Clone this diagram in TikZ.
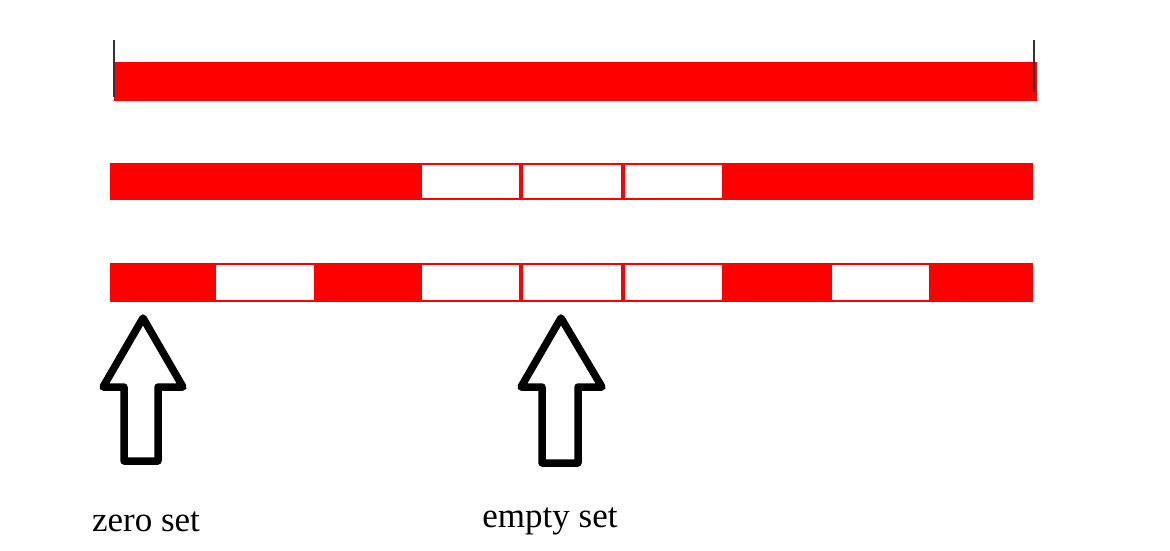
\documentclass[tikz,border=0pt]{standalone}
\usepackage{fontspec}
\setmainfont{Liberation Serif}
\definecolor{barred}{RGB}{255,0,0}
\tikzset{
  full/.style={fill=barred, draw=barred, line width=0.8pt},
  hole/.style={fill=white, draw=barred, line width=2pt},
  tick/.style={draw=black!80, line width=2pt},
  bigarrow/.style={draw=black, line width=7.5pt, fill=white, line join=round},
  lbl/.style={font=\fontsize{35}{38}\selectfont, anchor=base}
}
\begin{document}
\begin{tikzpicture}[x=1pt,y=-1pt]
\useasboundingbox (0,0) rectangle (1170,550);
% top bar
\fill[barred] (114,62) rectangle (1037,101);
\draw[tick] (114,40) -- (114,97);
\draw[tick] (1034,40) -- (1034,92);
% second bar
\fill[barred] (110,163) rectangle (1033,200);
\foreach \a/\b in {421/520,522/622,624/723}{
  \draw[hole] (\a,164) rectangle (\b,199);
}
% third bar
\fill[barred] (110,263) rectangle (1033,302);
\foreach \a/\b in {215/315,421/520,522/622,624/723,831/930}{
  \draw[hole] (\a,264) rectangle (\b,301);
}
% arrows
\draw[bigarrow] (143,318) -- (183,387) -- (158,387) -- (158,461) -- (124,461) -- (124,387) -- (103,387) -- cycle;
\draw[bigarrow] (561,318) -- (602,387) -- (578,387) -- (578,463) -- (542,463) -- (542,387) -- (521,387) -- cycle;
% labels
\node[lbl] (zero) at (146,531) {zero set};
\node[lbl] (empty) at (550,527) {empty set};
\end{tikzpicture}
\end{document}
